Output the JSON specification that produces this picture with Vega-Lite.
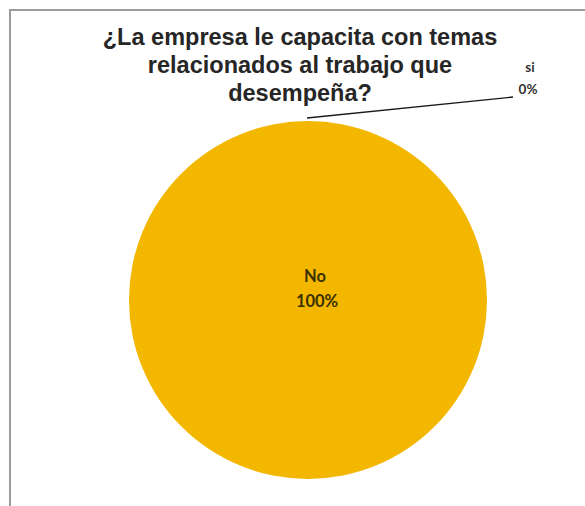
{
  "$schema": "https://vega.github.io/schema/vega-lite/v6.json",
  "autosize": {"type": "none"},
  "width": 596,
  "height": 580,
  "padding": {"left": 10, "top": 10, "right": -21, "bottom": -84},
  "background": "#ffffff",
  "config": {
    "view": {"stroke": "#9c9c9c", "strokeWidth": 2, "fill": "#ffffff"}
  },
  "title": {
    "text": [
      "¿La empresa le capacita con temas",
      "relacionados al trabajo que",
      "desempeña?"
    ],
    "orient": "top",
    "anchor": "middle",
    "offset": -95,
    "dx": -8,
    "font": "Liberation Sans",
    "fontSize": 23.5,
    "fontWeight": "bold",
    "lineHeight": 28,
    "color": "#262626"
  },
  "data": {
    "values": [
      {"respuesta": "No", "porcentaje": 1.0},
      {"respuesta": "si", "porcentaje": 0.0}
    ]
  },
  "encoding": {
    "theta": {"field": "porcentaje", "type": "quantitative", "stack": true},
    "color": {
      "field": "respuesta",
      "type": "nominal",
      "scale": {"domain": ["No", "si"], "range": ["#f3b700", "#4f81bd"]},
      "legend": null
    }
  },
  "layer": [
    {
      "mark": {"type": "arc", "outerRadius": 179, "stroke": null}
    },
    {
      "transform": [{"filter": "datum.respuesta === 'No'"}],
      "mark": {"type": "text", "radius": 0, "dx": 7, "dy": -23, "font": "Lato", "fontSize": 16.5, "fontWeight": "bold"},
      "encoding": {"text": {"field": "respuesta"}, "color": {"value": "#3b3000"}}
    },
    {
      "transform": [{"filter": "datum.respuesta === 'No'"}],
      "mark": {"type": "text", "radius": 0, "dx": 9, "dy": 2, "font": "Lato", "fontSize": 16.5, "fontWeight": "bold"},
      "encoding": {"text": {"field": "porcentaje", "format": ".0%"}, "color": {"value": "#3b3000"}}
    },
    {
      "transform": [{"filter": "datum.respuesta === 'si'"}],
      "mark": {"type": "text", "radius": 222, "dx": 222, "dy": -10, "font": "Lato", "fontSize": 13.5, "fontWeight": "bold"},
      "encoding": {"text": {"field": "respuesta"}, "color": {"value": "#333333"}}
    },
    {
      "transform": [{"filter": "datum.respuesta === 'si'"}],
      "mark": {"type": "text", "radius": 222, "dx": 220, "dy": 12, "font": "Lato", "fontSize": 13.5, "fontWeight": "bold"},
      "encoding": {"text": {"field": "porcentaje", "format": ".0%"}, "color": {"value": "#333333"}}
    },
    {
      "transform": [{"filter": "datum.respuesta === 'si'"}],
      "mark": {"type": "rule", "color": "#1a1a1a", "strokeWidth": 1.3},
      "encoding": {
        "theta": null,
        "color": null,
        "x": {"value": 297},
        "y": {"value": 108},
        "x2": {"value": 503},
        "y2": {"value": 87}
      }
    }
  ]
}
